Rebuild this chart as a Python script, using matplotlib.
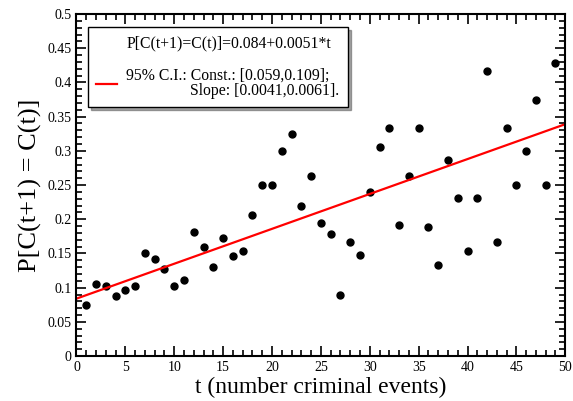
import numpy as np
from matplotlib import pyplot as plt
from matplotlib.lines import Line2D
from matplotlib.ticker import MultipleLocator

plt.rcParams['font.family'] = ['Liberation Serif', 'DejaVu Serif']

t = np.arange(1, 50)
prob = [0.075, 0.105, 0.103, 0.088, 0.097, 0.102, 0.150, 0.142, 0.128, 0.102,
        0.111, 0.182, 0.159, 0.130, 0.173, 0.146, 0.154, 0.206, 0.250, 0.250,
        0.300, 0.325, 0.220, 0.263, 0.195, 0.178, 0.090, 0.167, 0.148, 0.240,
        0.305, 0.333, 0.191, 0.263, 0.333, 0.188, 0.133, 0.286, 0.231, 0.154,
        0.231, 0.417, 0.167, 0.333, 0.250, 0.300, 0.375, 0.250, 0.429]
const = 0.084
slope = 0.0051

fig = plt.figure(figsize=(5.73, 4.01), dpi=100)
ax = fig.add_axes([0.1335, 0.112, 0.853, 0.853])

ax.plot(t, prob, 'o', color='black', markersize=5)
tt = np.array([0, 50])
ax.plot(tt, const + slope * tt, color='red', linewidth=1.6)

ax.set_xlim(0, 50)
ax.set_ylim(0, 0.5)
ax.xaxis.set_major_locator(MultipleLocator(5))
ax.xaxis.set_minor_locator(MultipleLocator(1))
ax.yaxis.set_minor_locator(MultipleLocator(0.01))
ax.set_yticks(np.arange(0, 0.51, 0.05))
ax.set_yticklabels(['0', '0.05', '0.1', '0.15', '0.2', '0.25', '0.3', '0.35', '0.4', '0.45', '0.5'])
ax.tick_params(which='both', direction='in', top=True, right=True, labelsize=10, width=1.2)
ax.tick_params(which='major', length=7)
ax.tick_params(which='minor', length=4)
for s in ax.spines.values():
    s.set_linewidth(1.5)

ax.set_xlabel('t (number criminal events)', fontsize=17, labelpad=2)
ax.set_ylabel('P[C(t+1) = C(t)]', fontsize=19, labelpad=4)

handles = [Line2D([], [], color='none'), Line2D([], [], color='red', linewidth=1.6)]
labels = ['P[C(t+1)=C(t)]=0.084+0.0051*t',
          '95% C.I.: Const.: [0.059,0.109];\n                Slope: [0.0041,0.0061].']
leg = ax.legend(handles, labels, loc='upper left', bbox_to_anchor=(0.023, 0.962),
                borderaxespad=0, fontsize=11.3, frameon=True, fancybox=False, shadow=True,
                handlelength=1.3, handletextpad=0.6, borderpad=0.55, labelspacing=1.0)
leg.get_frame().set_edgecolor('black')
leg.get_frame().set_linewidth(1.0)
for txt in leg.get_texts():
    txt.set_linespacing(0.95)

plt.savefig('out.png', dpi=100)
